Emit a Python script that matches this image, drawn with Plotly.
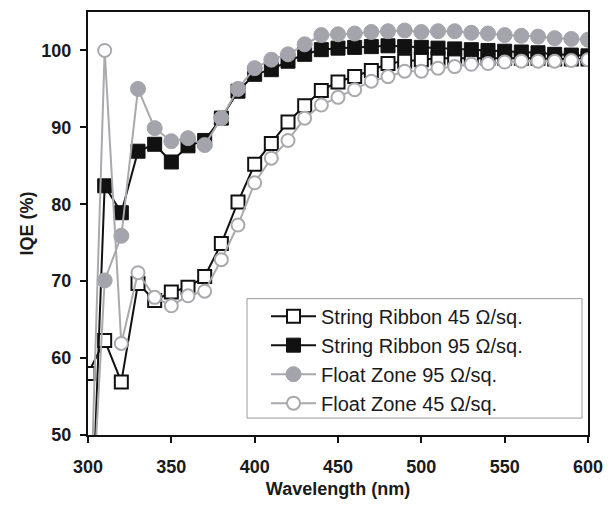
import plotly.graph_objects as go

wavelength = list(range(300, 610, 10))

sr45 = [58.0, 62.3, 56.9, 69.7, 67.5, 68.6, 69.2, 70.6, 74.9, 80.3,
        85.2, 87.9, 90.7, 92.8, 94.8, 95.9, 96.6, 97.4, 98.3, 98.6,
        98.8, 99.0, 99.0, 99.0, 99.0, 99.0, 99.0, 99.0, 98.9, 98.9, 98.9]
sr95 = [25.0, 82.4, 78.9, 86.9, 87.8, 85.5, 87.6, 88.3, 91.2, 94.7,
        96.9, 97.5, 98.6, 99.5, 100.1, 100.3, 100.4, 100.5, 100.6, 100.5,
        100.4, 100.3, 100.2, 100.1, 100.0, 99.9, 99.8, 99.7, 99.5, 99.4, 99.3]
fz95 = [30.0, 70.1, 75.9, 95.0, 89.9, 88.2, 88.6, 87.7, 91.2, 95.0,
        97.7, 98.8, 99.5, 100.8, 102.0, 102.1, 102.2, 102.4, 102.5, 102.6,
        102.4, 102.5, 102.5, 102.3, 102.2, 102.0, 101.9, 101.8, 101.6, 101.5, 101.4]
fz45 = [30.0, 100.0, 61.9, 71.1, 67.9, 66.8, 68.1, 68.7, 72.8, 77.3,
        82.8, 86.0, 88.3, 91.2, 92.9, 93.9, 94.9, 96.0, 96.6, 97.3,
        97.3, 97.7, 97.9, 98.2, 98.3, 98.5, 98.6, 98.6, 98.6, 98.7, 98.8]

names = ["String Ribbon 45 Ω/sq.", "String Ribbon 95 Ω/sq.",
         "Float Zone 95 Ω/sq.", "Float Zone 45 Ω/sq."]

x_ticks = [300, 350, 400, 450, 500, 550, 600]
y_ticks = [50, 60, 70, 80, 90, 100]

BLACK = "#111111"
GRAY_LINE = "#a9a9ae"
GRAY_FILL = "#a4a4ac"

fig = go.Figure()
fig.add_trace(go.Scatter(
    x=wavelength, y=sr45, name=names[0], mode="lines+markers",
    line=dict(color=BLACK, width=2),
    marker=dict(symbol="square", size=13, color="white",
                line=dict(color=BLACK, width=2))))
fig.add_trace(go.Scatter(
    x=wavelength, y=sr95, name=names[1], mode="lines+markers",
    line=dict(color=BLACK, width=2),
    marker=dict(symbol="square", size=14, color=BLACK,
                line=dict(color=BLACK, width=1))))
fig.add_trace(go.Scatter(
    x=wavelength, y=fz95, name=names[2], mode="lines+markers",
    line=dict(color=GRAY_LINE, width=2),
    marker=dict(symbol="circle", size=15, color=GRAY_FILL,
                line=dict(color=GRAY_FILL, width=1))))
fig.add_trace(go.Scatter(
    x=wavelength, y=fz45, name=names[3], mode="lines+markers",
    line=dict(color=GRAY_LINE, width=2),
    marker=dict(symbol="circle", size=13, color="white",
                line=dict(color=GRAY_LINE, width=2))))

axis_font = dict(family="Liberation Sans, Arial, sans-serif", size=18, color="#1a1a1a")

# The page body has an 8px default margin; margins below compensate for it.
L, T, PW, PH = 80, 2, 500, 425
fig.update_layout(
    width=607, height=498,
    margin=dict(l=L, r=27, t=T, b=71),
    paper_bgcolor="white", plot_bgcolor="white",
    font=dict(family="Liberation Sans, Arial, sans-serif", color="#1a1a1a"),
    showlegend=True,
    legend=dict(
        x=(266 - 88) / PW, y=(435 - 296) / PH, xanchor="left", yanchor="top",
        bgcolor="rgba(0,0,0,0)", borderwidth=0,
        font=dict(family="Liberation Sans, Arial, sans-serif", size=20, color="#1a1a1a"),
        itemwidth=45, tracegroupgap=0,
    ),
    shapes=[dict(type="rect", xref="paper", yref="paper",
                 x0=(247 - 88) / PW, x1=(582 - 88) / PW,
                 y0=(435 - 418) / PH, y1=(435 - 298) / PH,
                 line=dict(color="#9a9a9a", width=1), fillcolor="rgba(0,0,0,0)",
                 layer="above")],
    xaxis=dict(
        range=[300, 600], tickvals=x_ticks,
        ticktext=[f"<b>{v}</b>" for v in x_ticks],
        tickfont=axis_font, ticks="outside", ticklen=6, tickwidth=1.5,
        tickcolor=BLACK, showline=True, linecolor=BLACK, linewidth=2,
        mirror=True, showgrid=False, zeroline=False, ticklabelstandoff=8,
        title=dict(text="<b>Wavelength (nm)</b>", font=axis_font, standoff=7),
    ),
    yaxis=dict(
        range=[50, 105], tickvals=y_ticks,
        ticktext=[f"<b>{v}</b>" for v in y_ticks],
        tickfont=axis_font, ticks="outside", ticklen=6, tickwidth=1.5,
        tickcolor=BLACK, showline=True, linecolor=BLACK, linewidth=2,
        mirror=True, showgrid=False, zeroline=False, ticklabelstandoff=5,
        title=dict(text="<b>IQE (%)</b>", font=axis_font, standoff=3),
    ),
)

fig.write_html("out.html")
